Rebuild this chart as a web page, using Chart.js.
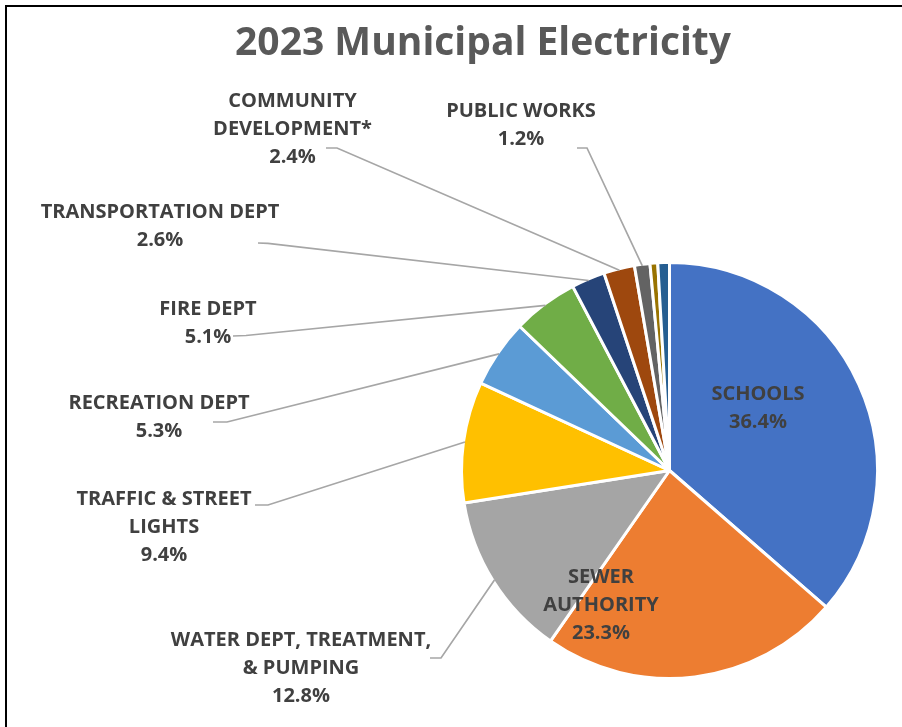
<!DOCTYPE html>
<html>
<head>
<meta charset="utf-8">
<script src="https://cdn.jsdelivr.net/npm/chart.js@4.4.0/dist/chart.umd.min.js"></script>
<style>
  html, body { margin: 0; padding: 0; background: #ffffff; overflow: hidden; }
  #wrap { position: relative; width: 902px; height: 727px; }
  #frame { position: absolute; left: 5px; top: 5px; width: 1000px; height: 1000px;
           border-left: 2px solid #000; border-top: 2px solid #000; pointer-events: none; }
  canvas { position: absolute; left: 0; top: 0; }
</style>
</head>
<body>
<div id="wrap">
  <canvas id="c" width="902" height="727"></canvas>
  <div id="frame"></div>
</div>
<script>
// ---- data ----
const chartTitle = '2023 Municipal Electricity';
const categories = ['SCHOOLS', 'SEWER AUTHORITY', 'WATER DEPT, TREATMENT, & PUMPING',
  'TRAFFIC & STREET LIGHTS', 'RECREATION DEPT', 'FIRE DEPT', 'TRANSPORTATION DEPT',
  'COMMUNITY DEVELOPMENT*', 'PUBLIC WORKS', '', ''];
const shares = [36.4, 23.3, 12.8, 9.4, 5.3, 5.1, 2.6, 2.4, 1.2, 0.6, 0.9];
const labelLines = [
  ['SCHOOLS'], ['SEWER', 'AUTHORITY'], ['WATER DEPT, TREATMENT,', '& PUMPING'],
  ['TRAFFIC & STREET', 'LIGHTS'], ['RECREATION DEPT'], ['FIRE DEPT'], ['TRANSPORTATION DEPT'],
  ['COMMUNITY', 'DEVELOPMENT*'], ['PUBLIC WORKS'], null, null
];
const sliceColors = ['#4472C4', '#ED7D31', '#A5A5A5', '#FFC000', '#5B9BD5', '#70AD47',
  '#264478', '#9E480E', '#636363', '#997300', '#255E91'];

// ---- layout of callouts (positions only) ----
const labelLayout = {
  0: { cx: 758, y: 394 },
  1: { cx: 601, y: 577 },
  2: { cx: 301, y: 640, lead: [430, 658, 441, 658] },
  3: { cx: 164, y: 499, lead: [255, 505, 268, 505] },
  4: { cx: 159, y: 403, lead: [213, 422, 227, 422] },
  5: { cx: 208, y: 309.5, lead: [233, 336, 246, 335.5] },
  6: { cx: 160, y: 212.5, lead: [258, 243, 268, 243.3] },
  7: { cx: 292.5, y: 101, lead: [326, 148, 337, 148] },
  8: { cx: 521, y: 111, lead: [577, 148, 587, 148] }
};
const LINE_H = 28;
const LABEL_FONT = 'bold 20px "Open Sans", "Liberation Sans", sans-serif';

const calloutPlugin = {
  id: 'callouts',
  afterDatasetsDraw(chart) {
    const ctx = chart.ctx;
    const meta = chart.getDatasetMeta(0);
    ctx.save();
    // title
    ctx.fillStyle = '#595959';
    ctx.font = 'bold 39px "Open Sans", "Liberation Sans", sans-serif';
    ctx.textAlign = 'center';
    ctx.textBaseline = 'middle';
    ctx.fillText(chartTitle, 483, 44);

    const ds = chart.data.datasets[0].data;
    const total = ds.reduce((a, b) => a + b, 0);
    Object.keys(labelLayout).forEach(k => {
      const i = +k;
      const L = labelLayout[i];
      const el = meta.data[i];
      if (L.lead) {
        const p = el.getProps(['x', 'y', 'startAngle', 'endAngle', 'outerRadius'], true);
        const mid = (p.startAngle + p.endAngle) / 2;
        const r = p.outerRadius - 1.5;
        const ex = p.x + Math.cos(mid) * r;
        const ey = p.y + Math.sin(mid) * r;
        ctx.strokeStyle = '#A6A6A6';
        ctx.lineWidth = 1.7;
        ctx.beginPath();
        ctx.moveTo(L.lead[0], L.lead[1]);
        ctx.lineTo(L.lead[2], L.lead[3]);
        ctx.lineTo(ex, ey);
        ctx.stroke();
      }
      const lines = labelLines[i].slice();
      lines.push((ds[i] / total * 100).toFixed(1) + '%');
      ctx.fillStyle = '#404040';
      ctx.font = LABEL_FONT;
      ctx.textAlign = 'center';
      ctx.textBaseline = 'middle';
      lines.forEach((t, j) => ctx.fillText(t, L.cx, L.y + j * LINE_H));
    });
    ctx.restore();
  }
};

new Chart(document.getElementById('c'), {
  type: 'pie',
  data: {
    labels: categories,
    datasets: [{
      data: shares,
      backgroundColor: sliceColors,
      borderColor: '#ffffff',
      borderWidth: 3
    }]
  },
  options: {
    responsive: false,
    animation: false,
    events: [],
    layout: { padding: { left: 460, right: 23, top: 261, bottom: 47 } },
    plugins: { legend: { display: false }, tooltip: { enabled: false }, title: { display: false } }
  },
  plugins: [calloutPlugin]
});
</script>
</body>
</html>
